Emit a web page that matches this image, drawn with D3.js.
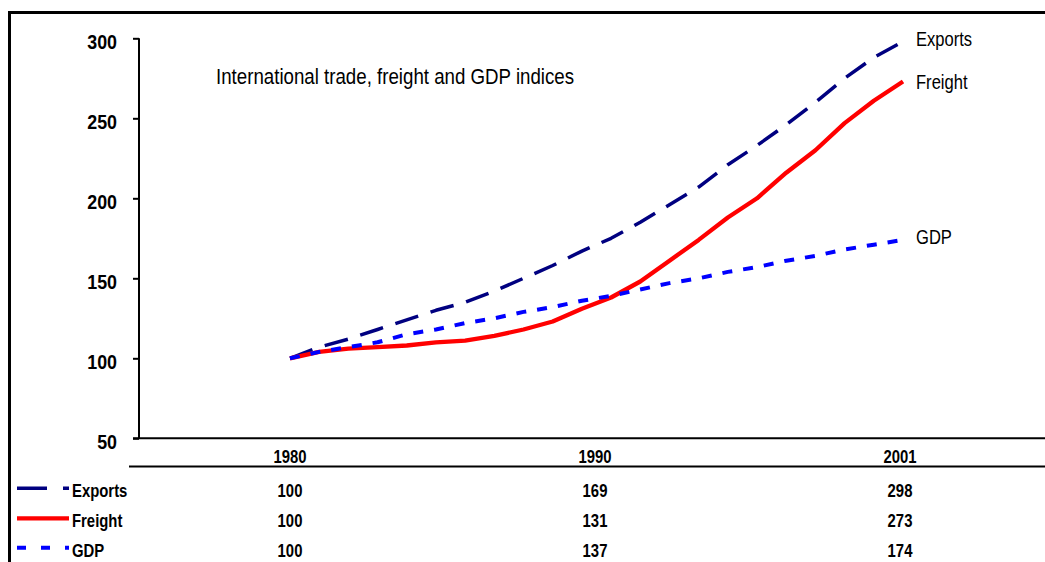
<!DOCTYPE html>
<html>
<head>
<meta charset="utf-8">
<script src="https://cdn.jsdelivr.net/npm/d3@7"></script>
<style>
  body { margin: 0; background: #fff; }
  svg { display: block; font-family: "Liberation Sans", Arial, sans-serif; }
</style>
</head>
<body>
<div id="chart"></div>
<script>
// annual index values, 1980 = 100
const years = [1980, 1981, 1982, 1983, 1984, 1985, 1986, 1987, 1988, 1989, 1990,
  1991, 1992, 1993, 1994, 1995, 1996, 1997, 1998, 1999, 2000, 2001];
const exportsIdx = [100, 107, 112, 118, 124, 130, 135, 142, 150, 158, 167,
  175, 185, 196, 207, 221, 233, 246, 260, 275, 288, 298];
const freightIdx = [100, 104, 106, 107, 108, 110, 111, 114, 118, 123, 131,
  138, 148, 161, 174, 188, 200, 216, 230, 247, 261, 273];
const gdpIdx = [100, 104, 107, 110, 115, 118, 122, 125, 129, 132, 136,
  139, 143, 147, 150, 154, 157, 161, 164, 168, 171, 174];

// values printed in the data table
const tableYears = ["1980", "1990", "2001"];
const tableExports = [100, 169, 298];
const tableFreight = [100, 131, 273];
const tableGdp = [100, 137, 174];

const yTicks = [50, 100, 150, 200, 250, 300];
const title = "International trade, freight and GDP indices";

const series = [
  { name: "Exports", values: exportsIdx, table: tableExports, color: "#000080", width: 3.5, dash: "24,13", legendDash: "30,16", labelDy: 4.5 },
  { name: "Freight", values: freightIdx, table: tableFreight, color: "#ff0000", width: 4.3, dash: null, legendDash: null, labelDy: 7.5 },
  { name: "GDP", values: gdpIdx, table: tableGdp, color: "#0000ff", width: 4, dash: "10,11", legendDash: "9,15", labelDy: 4.5 }
];

const W = 1045, H = 562;
const SX = 0.85; // the original text is horizontally condensed

const svg = d3.select("#chart").append("svg")
  .attr("width", W)
  .attr("height", H);

// condensed text helper
function label(parent, x, y, str, size, opts = {}) {
  return parent.append("text")
    .attr("transform", `translate(${x},${y}) scale(${SX},1)`)
    .attr("font-size", size)
    .attr("font-weight", opts.bold ? "bold" : null)
    .attr("text-anchor", opts.anchor || "start")
    .attr("fill", "#000")
    .text(str);
}

// outer frame (only left and top edges are visible)
svg.append("path")
  .attr("d", `M9.5,${H} L9.5,12.5 L${W},12.5`)
  .attr("fill", "none")
  .attr("stroke", "#000")
  .attr("stroke-width", 3);

const x = d3.scaleLinear().domain([1980, 2001]).range([290, 903]);
const y = d3.scaleLinear().domain([50, 300]).range([438.3, 38.3]);

// y axis
const yAxis = svg.append("g")
  .attr("transform", "translate(139,0)")
  .call(d3.axisLeft(y).tickValues(yTicks).tickSize(6).tickFormat(""));
yAxis.select(".domain").attr("stroke-width", 2).attr("d", `M0,${y(50)}V${y(300)}`);
yAxis.selectAll(".tick line").attr("stroke-width", 2);
yTicks.forEach(t => label(svg, 117, y(t) + 10.5, t, 21, { bold: true, anchor: "end" }));

// x axis line and table rule
svg.append("line")
  .attr("x1", 133).attr("x2", W)
  .attr("y1", y(50)).attr("y2", y(50))
  .attr("stroke", "#000").attr("stroke-width", 2);
svg.append("line")
  .attr("x1", 129).attr("x2", W)
  .attr("y1", 466.5).attr("y2", 466.5)
  .attr("stroke", "#000").attr("stroke-width", 2);

// title
label(svg, 216, 84, title, 22);

// lines
const line = d3.line()
  .x((d, i) => x(years[i]))
  .y(d => y(d));

svg.selectAll(".series")
  .data(series)
  .join("path")
  .attr("class", "series")
  .attr("d", d => line(d.values))
  .attr("fill", "none")
  .attr("stroke", d => d.color)
  .attr("stroke-width", d => d.width)
  .attr("stroke-dasharray", d => d.dash)
  .attr("stroke-linejoin", "round");

// end-of-line labels
series.forEach(s => {
  label(svg, 916, y(s.values[s.values.length - 1]) + s.labelDy, s.name, 19.5);
});

// data table under the chart
const col = d3.scalePoint().domain(tableYears).range([290, 900]);
const rowY = [497, 527, 556.5];

tableYears.forEach(yr => label(svg, col(yr), 463, yr, 17.5, { bold: true, anchor: "middle" }));

series.forEach((s, i) => {
  svg.append("line")
    .attr("x1", 17).attr("x2", 69)
    .attr("y1", rowY[i] - 8.7).attr("y2", rowY[i] - 8.7)
    .attr("stroke", s.color)
    .attr("stroke-width", s.width)
    .attr("stroke-dasharray", s.legendDash);
  label(svg, 72, rowY[i], s.name, 17.5, { bold: true });
  s.table.forEach((v, j) => label(svg, col(tableYears[j]), rowY[i], v, 17.5, { bold: true, anchor: "middle" }));
});
</script>
</body>
</html>
